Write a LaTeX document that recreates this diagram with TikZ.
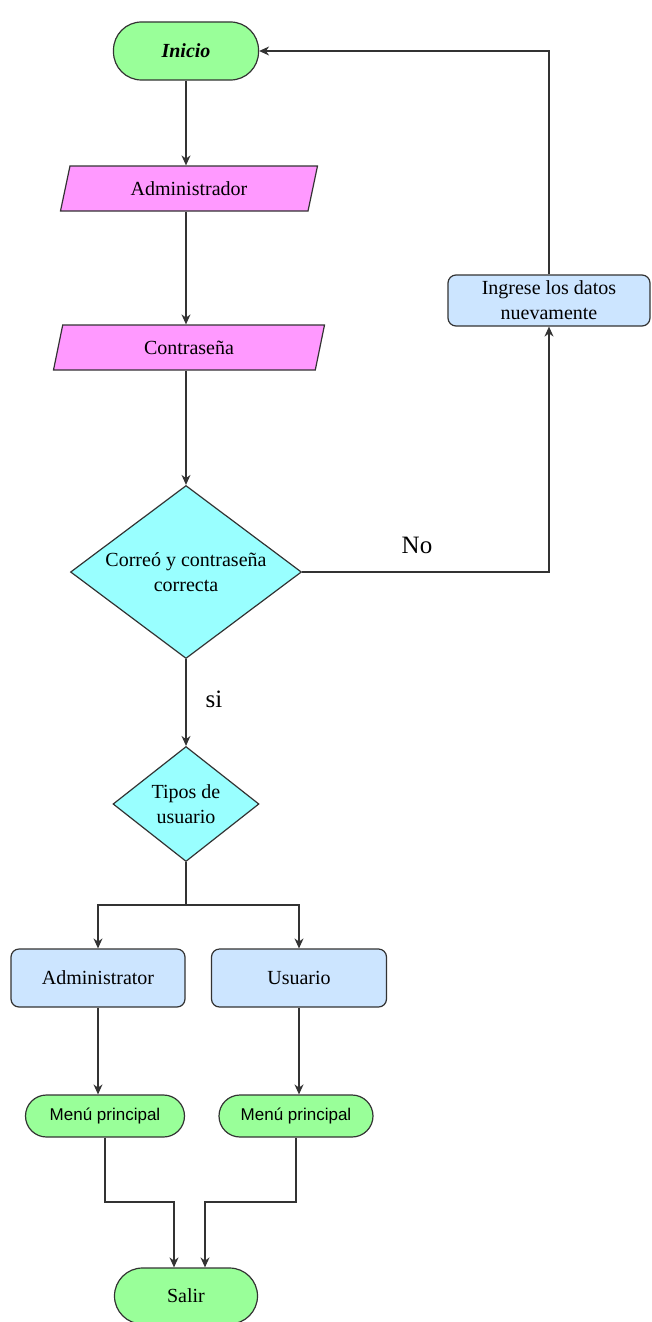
\documentclass[tikz,border=0pt]{standalone}
\usepackage{fontspec}
\setmainfont{Liberation Serif}
\setsansfont{Liberation Sans}
\usepackage{xcolor}
\usepackage{tikz}
\usetikzlibrary{shapes, shapes.geometric, arrows.meta, positioning}
\definecolor{verde}{HTML}{99FF99}
\definecolor{rosa}{HTML}{FF99FF}
\definecolor{celeste}{HTML}{99FFFF}
\definecolor{azul}{HTML}{CCE5FF}
\definecolor{trazo}{HTML}{333333}
\tikzset{
	flujo/.style={draw=trazo, line width=1.4pt, ->, >={Stealth[length=10pt,width=9pt]}},
	terminal/.style={draw=trazo, line width=1.2pt, fill=verde, rounded corners=28pt, align=center},
	entrada/.style={draw=trazo, line width=1.2pt, fill=rosa, trapezium, trapezium left angle=56, trapezium right angle=124, trapezium stretches body, minimum height=45pt, inner sep=0pt},
	decision/.style={draw=trazo, line width=1.2pt, fill=celeste, diamond, inner sep=0pt, align=center},
	proceso/.style={draw=trazo, line width=1.2pt, fill=azul, rounded corners=8pt, align=center},
	etiqueta/.style={font=\fontsize{25}{30}\selectfont}
}

\begin{document}
\begin{tikzpicture}[x=1pt, y=-1pt, font=\fontsize{20}{25}\selectfont]
				\useasboundingbox (0,0) rectangle (651,1322);
				
				\node[terminal, minimum width=145pt, minimum height=58pt, font=\fontsize{20}{25}\selectfont\bfseries\itshape] (I) at (186,51) {Inicio};
				\node[entrada, minimum width=257pt] (A) at (189,188.5) {Administrador};
				\node[entrada, minimum width=271pt] (C) at (189,347.5) {Contraseña};
				\node[decision, aspect=1.33, minimum width=231pt, minimum height=173pt] (D) at (186,572) {Correó y contraseña\\correcta};
				\node[proceso, minimum width=202pt, minimum height=51pt] (R) at (549,300.5) {Ingrese los datos\\nuevamente};
				\node[decision, aspect=1.27, minimum width=146pt, minimum height=115pt] (T) at (186,804) {Tipos de\\usuario};
				
				\node[proceso, minimum width=174pt, minimum height=58pt] (AD) at (98,978) {Administrator};
				\node[proceso, minimum width=175pt, minimum height=58pt] (U) at (299,978) {Usuario};
				\node[terminal, minimum width=159pt, minimum height=42pt, rounded corners=21pt, font=\fontsize{17}{20}\selectfont\sffamily] (M1) at (105,1116) {Menú principal};
				\node[terminal, minimum width=154pt, minimum height=42pt, rounded corners=21pt, font=\fontsize{17}{20}\selectfont\sffamily] (M2) at (296,1116) {Menú principal};
				\node[terminal, minimum width=143pt, minimum height=56pt] (S) at (186,1296) {Salir};
				
				\node[etiqueta] (NO) at (417,545) {No};
				\node[etiqueta] (SI) at (214,699) {si};
				
				\coordinate (X) at (186,905);
				\coordinate (Y1) at (174,1202);
				\coordinate (Y2) at (205,1202);
				
				\draw[flujo] (I) -- (I |- A.north);
				\draw[flujo] (I |- A.south) -- (I |- C.north);
				\draw[flujo] (I |- C.south) -- (D);
				\draw[flujo] (D.east) -| (R.south);
				\draw[flujo] (R.north) |- (I.east);
				\draw[flujo] (D.south) -- (T.north);
				
				\draw[draw=trazo, line width=1.4pt] (T.south) -- (X);
				\draw[flujo] (X) -| (AD.north);
				\draw[flujo] (X) -| (U.north);
				\draw[flujo] (AD.south) -- (AD.south |- M1.north);
				\draw[flujo] (U.south) -- (U.south |- M2.north);
				
				\draw[flujo] (M1.south) |- (Y1) -- (Y1 |- S.north);
				\draw[flujo] (M2.south) |- (Y2) -- (Y2 |- S.north);
			\end{tikzpicture}
\end{document}
